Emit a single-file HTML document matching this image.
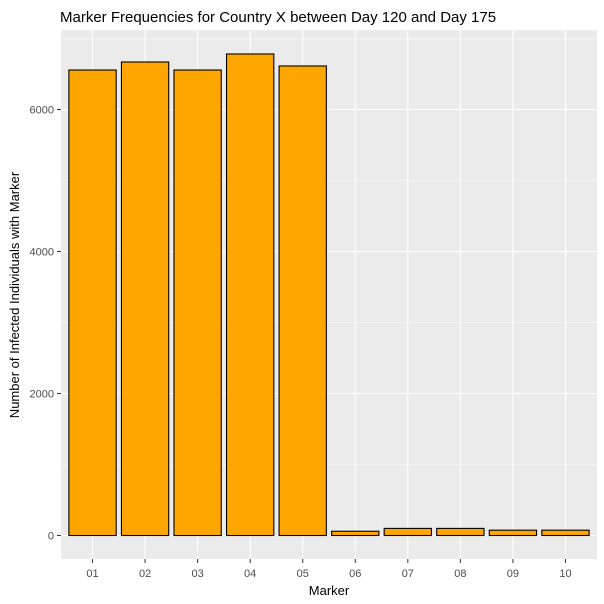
<!DOCTYPE html>
<html><head><meta charset="utf-8"><style>body{margin:0;background:#fff}svg{display:block;font-family:"Liberation Sans",Arial,sans-serif}</style></head>
<body>
<svg id="chart" width="604" height="604">
<text x="60" y="22" font-size="15" fill="#000">Marker Frequencies for Country X between Day 120 and Day 175</text>
<rect x="61" y="30" width="536" height="529" fill="#ebebeb"/>
<g id="grid"></g><g id="bars"></g><g id="axes"></g>
<text x="329" y="595" font-size="13" text-anchor="middle" fill="#000">Marker</text>
<text transform="translate(19,295) rotate(-90)" font-size="13" text-anchor="middle" fill="#000">Number of Infected Individuals with Marker</text>
</svg>
<script>
const categories=["01","02","03","04","05","06","07","08","09","10"];
const values=[6556,6669,6556,6782,6613,60,100,100,75,75];
const yTicks=[0,2000,4000,6000];
const ns="http://www.w3.org/2000/svg";
const L=61,R=597,T=30,B=559;
const step=(R-L)/(categories.length-1+1.2);
function xs(i){return L+0.6*step+i*step;}
function ys(v){return 535.5-v*0.071;}
function mk(t,a,p){const e=document.createElementNS(ns,t);for(const k in a)e.setAttribute(k,a[k]);p.appendChild(e);return e;}
const grid=document.getElementById('grid'),bars=document.getElementById('bars'),axes=document.getElementById('axes');
yTicks.forEach((v,i)=>{
 if(i<yTicks.length-1){const m=mk('line',{x1:L,x2:R,y1:ys(v+1000),y2:ys(v+1000),stroke:'#fff','stroke-width':0.5},grid);
 }
 const g=mk('line',{x1:L,x2:R,y1:ys(v),y2:ys(v),stroke:'#fff','stroke-width':1.1},grid);
 
 mk('line',{x1:57,x2:61,y1:ys(v),y2:ys(v),stroke:'#333'},axes);
 const t=mk('text',{x:54,y:ys(v)+4,'font-size':11,'text-anchor':'end',fill:'#4d4d4d'},axes);t.textContent=v;
 
});
mk('line',{x1:L,x2:R,y1:ys(7000)+0.5,y2:ys(7000)+0.5,stroke:'#fff','stroke-width':0.5},grid);
categories.forEach((c,i)=>{
 const x=xs(i);
 const g=mk('line',{x1:x,x2:x,y1:T,y2:B,stroke:'#fff','stroke-width':1.1},grid);
 
 const w=step*0.9;
 const b=mk('rect',{x:x-w/2,y:ys(values[i]),width:w,height:ys(0)-ys(values[i]),fill:'#ffa500',stroke:'#000','stroke-width':1.1},bars);
 
 mk('line',{x1:x,x2:x,y1:B,y2:B+4,stroke:'#333'},axes);
 const t=mk('text',{x:x,y:577,'font-size':11,'text-anchor':'middle',fill:'#4d4d4d'},axes);t.textContent=c;
 
});
</script>
</body></html>
